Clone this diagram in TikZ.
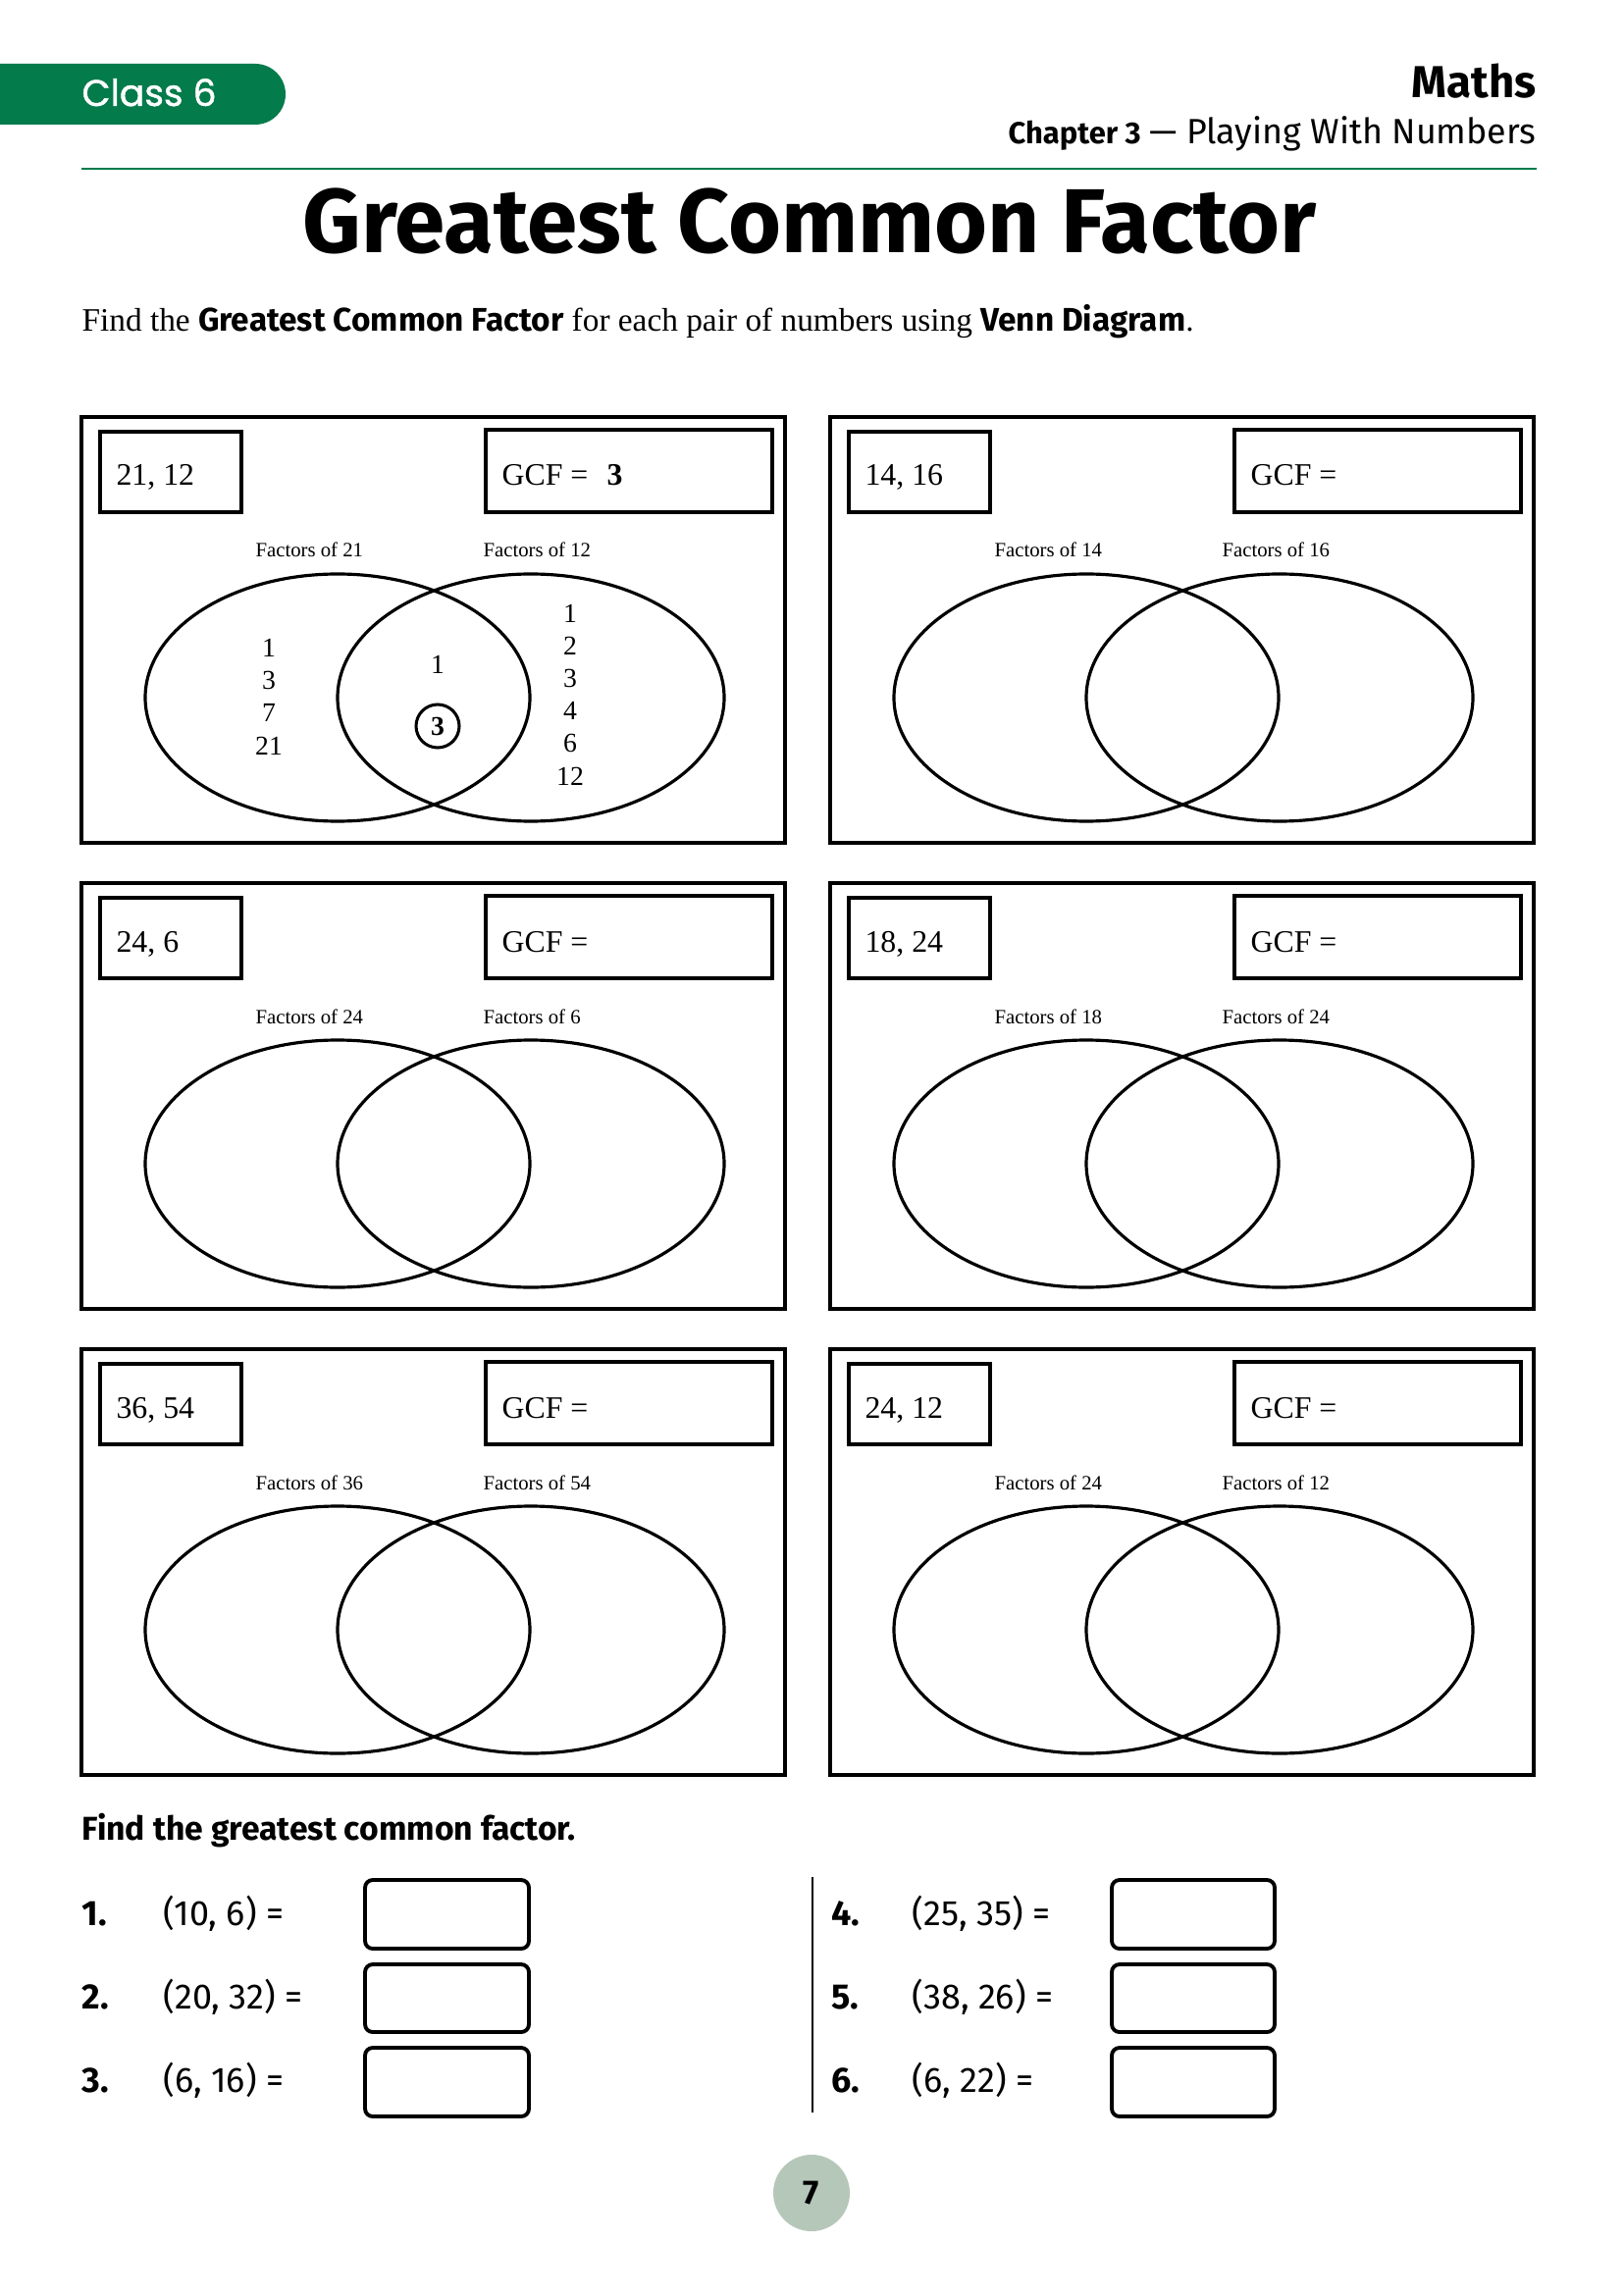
\documentclass[tikz,border=0pt]{standalone}
\usepackage{fontspec}
\setmainfont{Liberation Serif}
\newfontfamily\comicf{Fira Sans}
\newfontfamily\classf[FakeBold=1.2]{Poppins}
\definecolor{tabgreen}{HTML}{037B4B}
\definecolor{pagegrey}{HTML}{B5C7B9}
\newcommand\fitw[2]{\resizebox{#1}{!}{#2}}
\begin{document}
\begin{tikzpicture}[x=0.127mm,y=-0.127mm,
  outer/.style={draw, line width=1.4pt},
  inbox/.style={draw, line width=1.3pt},
  ell/.style={draw, line width=1.15pt},
  pairtxt/.style={anchor=base west, font=\fontsize{11.5}{13}\selectfont, inner sep=0},
  lbl/.style={anchor=base west, font=\fontsize{7.5}{9}\selectfont, inner sep=0},
  num/.style={font=\fontsize{10}{12}\selectfont, inner sep=0},
  ansbox/.style={draw, line width=1.4pt, rounded corners=1mm},
  qtxt/.style={anchor=base west, font=\comicf\fontsize{13}{15}\selectfont, inner sep=0},
  qnum/.style={anchor=base west, font=\comicf\bfseries\fontsize{13}{15}\selectfont, inner sep=0},
]
\useasboundingbox (0,0) rectangle (1654,2339);
% header tab
\fill[tabgreen] (0,65) -- (260,65) arc[start angle=-90, end angle=90, radius=31] -- (0,127) -- cycle;
\node[anchor=base west, inner sep=0, text=white] (cls) at (83,108) {\fitw{17.4mm}{\classf\fontsize{14}{16}\selectfont Class 6}};
\node[anchor=base east, inner sep=0] (maths) at (1566,100) {\fitw{16.1mm}{\comicf\bfseries\fontsize{13}{15}\selectfont Maths}};
\node[anchor=base east, inner sep=0] (chap) at (1566,147) {\fitw{68.3mm}{\comicf{\bfseries\fontsize{9.5}{12}\selectfont Chapter 3} {\fontsize{11}{12}\selectfont — Playing With Numbers}}};
\draw[tabgreen, line width=0.7pt] (83,172) -- (1566,172);
% title
\node[anchor=base, inner sep=0] (title) at (825,258) {\fitw{131.2mm}{\comicf\bfseries\fontsize{30}{34}\selectfont Greatest Common Factor}};
\node[anchor=base west, inner sep=0] (instr) at (83,338) {\fitw{143.9mm}{\fontsize{12}{14}\selectfont Find the {\comicf\bfseries Greatest Common Factor} for each pair of numbers using {\comicf\bfseries Venn Diagram}.}};
% venn boxes
\foreach \dx/\dy/\lx/\a/\b/\id in {0/0/0/21/12/1, 763/0/-10/14/16/2, 0/475/0/24/6/3, 763/475/-10/18/24/4, 0/950/0/36/54/5, 763/950/-10/24/12/6}{
  \begin{scope}[shift={(\dx,\dy)}]
    \draw[outer] (83,425) rectangle (800,859);
    \draw[inbox] (102,440) rectangle (246,522);
    \draw[inbox] (495,438) rectangle (787,522);
    \node[pairtxt] (pair\id) at (118,495) {\a, \b};
    \node[pairtxt] (gcf\id) at (511,495) {GCF =};
    \node[lbl] (fa\id) at ({260+\lx},568) {Factors of \a};
    \node[lbl] (fb\id) at ({492+\lx},568) {Factors of \b};
    \draw[ell] (344,711) ellipse [x radius=196, y radius=126];
    \draw[ell] (541,711) ellipse [x radius=197, y radius=126];
  \end{scope}
}
% worked example
\node[pairtxt] (ans1) at (618,495) {\textbf{3}};
\foreach \v [count=\i] in {1,3,7,21}
  \node[num] (l\i) at (274,{660+33.3*(\i-1)}) {\v};
\foreach \v [count=\i] in {1,2,3,4,6,12}
  \node[num] (r\i) at (581,{625+33.2*(\i-1)}) {\v};
\node[num] (m1) at (446,677) {1};
\node[num, draw, circle, line width=1.1pt, minimum size={44*0.127mm}] (m3) at (446,740) {\textbf{3}};
% bottom exercise
\node[anchor=base west, inner sep=0] (ftitle) at (83,1875) {\fitw{63.9mm}{\comicf\bfseries\fontsize{13}{15}\selectfont Find the greatest common factor.}};
\node[qnum] (n1) at (83,1962) {1.};
\node[qtxt] (q1) at (166,1962) {(10, 6) =};
\node[qnum] (n2) at (83,2047) {2.};
\node[qtxt] (q2) at (166,2047) {(20, 32) =};
\node[qnum] (n3) at (83,2132) {3.};
\node[qtxt] (q3) at (166,2132) {(6, 16) =};
\node[qnum] (n4) at (847,1962) {4.};
\node[qtxt] (q4) at (929,1962) {(25, 35) =};
\node[qnum] (n5) at (847,2047) {5.};
\node[qtxt] (q5) at (929,2047) {(38, 26) =};
\node[qnum] (n6) at (847,2132) {6.};
\node[qtxt] (q6) at (929,2132) {(6, 22) =};
\foreach \yt/\yb [count=\i] in {1916/1986, 2002/2071, 2087/2157}{
  \draw[ansbox] (372,\yt) rectangle (539,\yb);
  \draw[ansbox] (1133,\yt) rectangle (1299,\yb);
}
\draw[line width=0.6pt] (828,1913) -- (828,2153);
% page number
\node[circle, fill=pagegrey, minimum size={78*0.127mm}, inner sep=0, font=\comicf\bfseries\fontsize{12.5}{14}\selectfont] (pg) at (827,2235) {7};
\end{tikzpicture}
\end{document}
